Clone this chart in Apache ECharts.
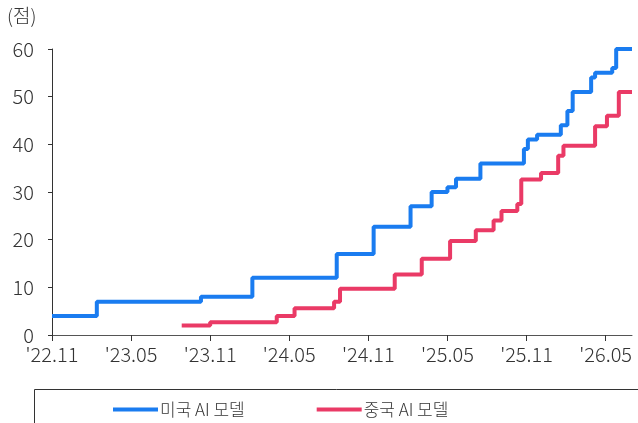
<!DOCTYPE html>
<html>
<head>
<meta charset="utf-8">
<script src="https://cdn.jsdelivr.net/npm/echarts@6/dist/echarts.min.js"></script>
<style>html,body{margin:0;padding:0;background:#fff;}#c{width:638px;height:423px;}</style>
</head>
<body>
<div id="c"></div>
<script>
// months since 2022-11
const xTickLabels = ["'22.11","'23.05","'23.11","'24.05","'24.11","'25.05","'25.11","'26.05"];
const usName = "미국 AI 모델";
const cnName = "중국 AI 모델";
const usMonths = [0,3.4,11.3,15.2,21.6,24.4,27.2,28.8,30.0,30.65,32.5,35.8,36.1,36.8,38.6,39.1,39.5,40.9,41.2,42.5,42.8,44];
const usScores = [4,7,8,12,17,22.7,27,30,31,32.8,36,39,41,42,44,47,51,54,55,56,60,60];
const cnMonths = [9.84,12.0,17.05,18.4,21.4,21.85,26.0,28.05,30.2,32.15,33.5,34.1,35.3,35.6,37.1,38.4,38.8,41.2,42.1,43.0,44];
const cnScores = [2,2.7,4,5.6,7,9.7,12.7,16,19.7,22,24,26,27.5,32.6,34,37.6,39.7,43.8,46,51,51];

const pair = (xs, ys) => xs.map((x, i) => [x, ys[i]]);
const font = '"Noto Sans CJK KR", "Noto Sans", sans-serif';
const chart = echarts.init(document.getElementById('c'), null, {renderer: 'canvas'});
chart.setOption({
  animation: false,
  grid: {left: 52, right: 6, top: 49, bottom: 88},
  xAxis: {
    type: 'value', min: 0, max: 44, interval: 6,
    axisLine: {lineStyle: {color: '#555', width: 1}},
    axisTick: {show: true, length: 6, lineStyle: {color: '#333'}},
    splitLine: {show: false},
    axisLabel: {
      color: '#333', fontSize: 20, fontWeight: 300, fontFamily: font, margin: 9, showMaxLabel: false,
      formatter: v => (v % 6 === 0 && xTickLabels[v / 6]) ? xTickLabels[v / 6] : ''
    }
  },
  yAxis: {
    type: 'value', min: 0, max: 60, interval: 10,
    axisLine: {show: true, lineStyle: {color: '#333', width: 1}},
    axisTick: {show: true, length: 4, lineStyle: {color: '#333'}},
    splitLine: {show: false},
    axisLabel: {color: '#333', fontSize: 20, fontWeight: 300, fontFamily: font, margin: 18}
  },
  legend: {
    left: 108, top: 396, itemGap: 72, itemWidth: 45, itemHeight: 4,
    icon: 'rect',
    textStyle: {color: '#333', fontSize: 17, fontWeight: 300, fontFamily: font, padding: [0, 0, 0, -3]},
    data: [usName, cnName]
  },
  graphic: [
    {type: 'rect', left: 32, top: 387, shape: {width: 700, height: 60},
     style: {fill: 'none', stroke: '#333', lineWidth: 1}, silent: true},
    {type: 'text', left: 7, top: 6,
     style: {text: '(점)', fill: '#333', font: '300 19px ' + font}}
  ],
  series: [
    {name: usName, type: 'line', step: 'end', symbol: 'none',
     lineStyle: {color: '#1a7cf0', width: 4}, itemStyle: {color: '#1a7cf0'},
     data: pair(usMonths, usScores)},
    {name: cnName, type: 'line', step: 'end', symbol: 'none',
     lineStyle: {color: '#ea3a66', width: 4}, itemStyle: {color: '#ea3a66'},
     data: pair(cnMonths, cnScores)}
  ]
});
</script>
</body>
</html>
